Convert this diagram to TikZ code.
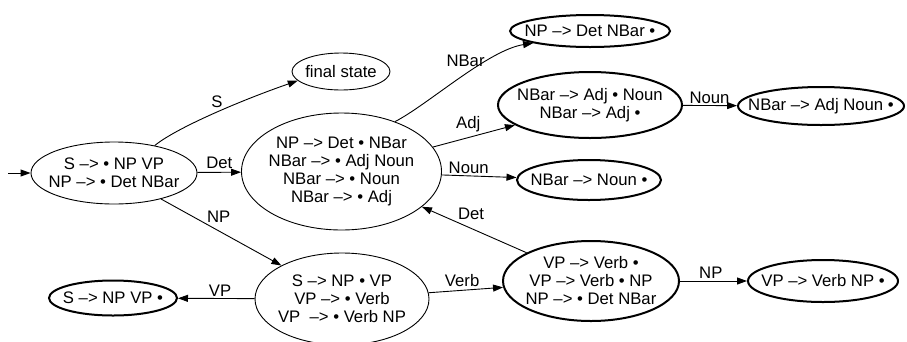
\documentclass[tikz,border=0pt]{standalone}
\usepackage{fontspec}
\setmainfont{Liberation Sans}
\usetikzlibrary{shapes.geometric,arrows.meta}
\begin{document}
\begin{tikzpicture}[x=1pt,y=-1pt,
  txt/.style={font=\fontsize{16.7}{18}\selectfont},
  state/.style={ellipse,draw,line width=0.9pt,inner sep=-40pt,align=center,txt},
  accept/.style={state,line width=2pt},
  arr/.style={draw,line width=0.9pt,-{Triangle[length=10pt,width=7pt]}},
  lbl/.style={txt,inner sep=1pt,anchor=south}]
\useasboundingbox (0,0) rectangle (907,341);

\node[state,minimum width=166pt,minimum height=62pt] (start) at (114,173) {S –> • NP VP\\NP –> • Det NBar};
\node[state,minimum width=98pt,minimum height=37pt] (final) at (341,71.5) {final state};
\node[state,minimum width=200pt,minimum height=117pt] (mid) at (341.5,171.5) {NP –> Det • NBar\\NBar –> • Adj Noun\\NBar –> • Noun\\NBar –> • Adj};
\node[accept,minimum width=160pt,minimum height=32pt] (npdone) at (590,31) {NP –> Det NBar •};
\node[accept,minimum width=184pt,minimum height=66pt] (adj) at (590,105) {NBar –> Adj • Noun\\NBar –> Adj •};
\node[accept,minimum width=166pt,minimum height=38pt] (adjnoun) at (821,106) {NBar –> Adj Noun •};
\node[accept,minimum width=144pt,minimum height=40pt] (noun) at (589,180) {NBar –> Noun •};
\node[accept,minimum width=176pt,minimum height=80pt] (verb) at (591,281) {VP –> Verb •\\VP –> Verb • NP\\NP –> • Det NBar};
\node[accept,minimum width=150pt,minimum height=42pt] (verbnp) at (823,281) {VP –> Verb NP •};
\node[state,minimum width=174pt,minimum height=92pt] (snp) at (342,299) {S –> NP • VP\\VP –> • Verb\\VP\ \ –> • Verb NP};
\node[accept,minimum width=128pt,minimum height=35pt] (svp) at (113,298) {S –> NP VP •};

\coordinate (init) at (8,173);
\draw[arr] (init) -- (start);

\draw[arr] (start.34) .. controls +(22,-18) and +(-55,19) .. (final.192)
  node[lbl,pos=0.52,yshift=3pt] {S};
\draw[arr] (start) -- (mid) node[lbl,midway,yshift=2pt] {Det};
\draw[arr] (start) -- (snp) node[txt,inner sep=1pt,anchor=south west,pos=0.37] {NP};
\draw[arr] (mid.43) .. controls +(33,-17) and +(-45,7) .. (npdone.192)
  node[lbl,pos=0.5,yshift=10pt,xshift=6pt] {NBar};
\draw[arr] (mid) -- (adj) node[lbl,pos=0.43,yshift=4pt] {Adj};
\draw[arr] (mid) -- (noun) node[lbl,pos=0.36,yshift=1pt] {Noun};
\draw[arr] (adj) -- (adjnoun) node[lbl,pos=0.49,yshift=0pt] {Noun};
\draw[arr] (verb) -- (mid) node[lbl,pos=0.53,yshift=7pt] {Det};
\draw[arr] (snp) -- (verb) node[lbl,pos=0.45,yshift=2pt] {Verb};
\draw[arr] (snp) -- (svp) node[lbl,pos=0.45,yshift=1pt] {VP};
\draw[arr] (verb) -- (verbnp) node[lbl,pos=0.46,yshift=1pt] {NP};
\end{tikzpicture}
\end{document}
